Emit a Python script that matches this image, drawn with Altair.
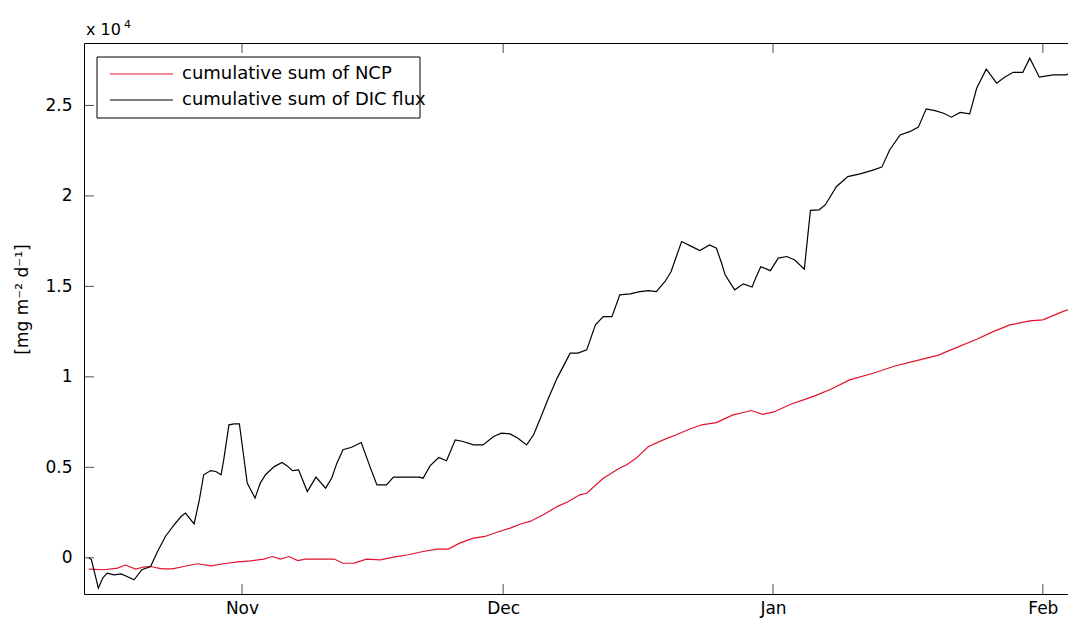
import altair as alt
import pandas as pd

# days after 1 Nov 2010 (fractional) and cumulative values [mg m-2 d-1]
dic_days = [-17.6, -17.3, -16.5, -16.0, -15.5, -14.7, -13.9, -13.2, -12.4, -11.5,
            -10.5, -9.7, -8.8, -7.8, -7.0, -6.5, -5.5, -4.9, -4.4, -3.6,
            -3.0, -2.4, -2.1, -1.5, -0.9, -0.3, 0.2, 0.6, 1.5, 2.1,
            2.7, 3.7, 4.6, 5.2, 5.8, 6.5, 7.5, 8.5, 9.6, 10.3,
            10.9, 11.6, 12.6, 13.7, 14.7, 15.5, 16.6, 17.4, 18.9, 20.4,
            20.8, 21.6, 22.6, 23.5, 24.5, 25.4, 26.6, 27.7, 28.9, 29.8,
            30.8, 31.7, 32.7, 33.5, 34.2, 35.2, 36.2, 37.3, 37.7, 38.6,
            39.6, 40.6, 41.5, 42.5, 43.4, 44.6, 45.7, 46.7, 47.6, 48.6,
            49.3, 49.9, 50.5, 51.5, 52.6, 53.7, 54.5, 55.1, 55.5, 56.1,
            56.6, 57.6, 58.6, 59.0, 59.6, 60.7, 61.6, 62.6, 63.5, 64.6,
            65.3, 66.3, 67.0, 68.3, 69.6, 71.0, 72.3, 73.5, 74.4, 75.6,
            76.7, 77.7, 78.6, 79.6, 80.6, 81.5, 82.5, 83.6, 84.4, 85.5,
            86.7, 87.6, 88.6, 89.7, 90.5, 91.6, 93.2, 94.7, 95.8, 96.3]
dic_vals = [0, -100, -1680, -1120, -850, -940, -890, -1030, -1215, -660,
            -480, 350, 1180, 1820, 2280, 2470, 1880, 3200, 4590, 4820,
            4770, 4590, 5410, 7350, 7400, 7400, 5600, 4130, 3300, 4130,
            4590, 5040, 5270, 5080, 4820, 4860, 3660, 4460, 3850, 4400,
            5230, 5970, 6110, 6370, 5040, 4030, 4030, 4460, 4460, 4460,
            4400, 5080, 5540, 5360, 6520, 6430, 6240, 6240, 6700, 6890,
            6850, 6610, 6240, 6800, 7620, 8820, 9930, 10940, 11310, 11310,
            11490, 12870, 13330, 13330, 14530, 14590, 14710, 14770, 14710, 15270,
            15820, 16650, 17480, 17240, 16980, 17290, 17110, 16280, 15640, 15180,
            14810, 15140, 14960, 15450, 16090, 15870, 16560, 16650, 16460, 15950,
            19200, 19230, 19500, 20520, 21070, 21220, 21400, 21590, 22540, 23370,
            23550, 23800, 24810, 24710, 24570, 24350, 24610, 24530, 25950, 27000,
            26230, 26560, 26830, 26830, 27610, 26560, 26690, 26690, 26960, 27100]

ncp_days = [-17.6, -15.9, -14.3, -13.4, -12.2, -11.3, -10.5, -9.2, -8.0, -6.7,
            -5.1, -3.6, -2.1, -0.5, 1.0, 2.5, 3.5, 4.4, 5.4, 6.4,
            7.3, 8.6, 10.6, 11.6, 12.9, 14.3, 15.9, 17.4, 19.1, 20.8,
            22.4, 23.7, 25.0, 26.6, 27.9, 29.2, 30.8, 32.1, 33.1, 34.6,
            36.2, 37.5, 38.8, 39.6, 41.5, 42.2, 43.4, 44.2, 45.3, 46.7,
            48.6, 49.9, 51.3, 52.8, 54.5, 56.4, 57.6, 58.5, 59.8, 61.1,
            63.1, 64.5, 65.8, 67.7, 69.8, 72.5, 75.0, 77.5, 80.0, 82.0,
            84.4, 86.3, 88.2, 90.5, 92.0, 94.0, 95.8, 96.3]
ncp_vals = [-630, -660, -570, -400, -620, -510, -480, -610, -610, -480,
            -330, -440, -330, -220, -170, -70, 70, -70, 70, -150,
            -70, -70, -70, -300, -290, -70, -110, 40, 170, 350,
            480, 480, 810, 1090, 1180, 1400, 1640, 1880, 2010, 2380,
            2830, 3110, 3480, 3570, 4400, 4600, 4960, 5140, 5510, 6150,
            6560, 6800, 7090, 7350, 7470, 7900, 8030, 8140, 7930, 8060,
            8500, 8730, 8950, 9330, 9830, 10200, 10600, 10900, 11200, 11600,
            12080, 12500, 12870, 13090, 13150, 13550, 13890, 13950]

series_names = ["cumulative sum of NCP", "cumulative sum of DIC flux"]
series_colors = ["#e3122e", "#000000"]

y_tick_values = [0, 5000, 10000, 15000, 20000, 25000]
x_tick_dates = ["2010-11-01", "2010-12-01", "2011-01-01", "2011-02-01"]
x_domain_dates = ["2010-10-13T20:24", "2011-02-04T19:26"]
y_domain = [-2000, 28450]

base = pd.Timestamp("2010-11-01")


def iso(days):
    return [(base + pd.Timedelta(days=d)).strftime("%Y-%m-%dT%H:%M:%SZ") for d in days]


def ms(s):
    return int(pd.Timestamp(s).tz_localize("UTC").value // 10**6)


df = pd.concat([
    pd.DataFrame({"date": iso(ncp_days), "value": ncp_vals, "series": series_names[0]}),
    pd.DataFrame({"date": iso(dic_days), "value": dic_vals, "series": series_names[1]}),
])

W, H = 992, 551
FONT = "DejaVu Sans"

xscale = alt.Scale(type="utc", domain=[ms(d) for d in x_domain_dates])
yscale = alt.Scale(domain=y_domain, nice=False, zero=False)
x_ticks_ms = [ms(d) for d in x_tick_dates]

x_axis = alt.Axis(values=x_ticks_ms, labelExpr="utcFormat(datum.value, '%b')",
                  ticks=False, domain=False, grid=False, labelPadding=6,
                  labelBaseline="top", title=None)
y_axis = alt.Axis(values=y_tick_values, labelExpr="format(datum.value / 10000, '~g')",
                  ticks=False, domain=False, grid=False, labelPadding=12,
                  title="[mg m⁻² d⁻¹]", titleAngle=270, titleX=-62, titleY=256,
                  titleAlign="center", titleBaseline="middle", titleFontWeight="normal")

lines = alt.Chart(df).mark_line(strokeWidth=1.2, clip=True).encode(
    x=alt.X("date:T", scale=xscale, axis=x_axis),
    y=alt.Y("value:Q", scale=yscale, axis=y_axis),
    color=alt.Color("series:N",
                    scale=alt.Scale(domain=series_names, range=series_colors),
                    legend=None),
)

ytick_df = pd.DataFrame({"value": y_tick_values})
xtick_df = pd.DataFrame({"date": x_ticks_ms})


def ytick(xpos):
    return alt.Chart(ytick_df).mark_tick(orient="horizontal", size=10, thickness=1,
                                         color="black").encode(
        y=alt.Y("value:Q", scale=yscale, axis=y_axis), x=alt.value(xpos))


def xtick(ypos):
    return alt.Chart(xtick_df).mark_tick(orient="vertical", size=10, thickness=1,
                                         color="black").encode(
        x=alt.X("date:T", scale=xscale, axis=x_axis), y=alt.value(ypos))


# legend drawn by hand (box, line samples, labels)
one = pd.DataFrame({"k": [0]})
leg_box = alt.Chart(one).mark_rect(fill="white", stroke="black", strokeWidth=1).encode(
    x=alt.value(13), x2=alt.value(336), y=alt.value(14), y2=alt.value(75))
leg_lines = [
    alt.Chart(pd.DataFrame({"series": [series_names[i]]})).mark_rule(
        color=series_colors[i], strokeWidth=1.2).encode(
        x=alt.value(26), x2=alt.value(89), y=alt.value(31 + 26 * i))
    for i in range(2)
]
leg_texts = [
    alt.Chart(pd.DataFrame({"series": [series_names[i]]})).mark_text(
        align="left", baseline="middle", font=FONT, fontSize=18, color="black").encode(
        x=alt.value(98), y=alt.value(31 + 26 * i), text="series:N")
    for i in range(2)
]

exp_text = alt.Chart(pd.DataFrame({"t": ["x 10"]})).mark_text(
    align="left", baseline="alphabetic", font=FONT, fontSize=16, color="black").encode(
    x=alt.value(2), y=alt.value(-8), text="t:N")
sup_text = alt.Chart(pd.DataFrame({"t": ["4"]})).mark_text(
    align="left", baseline="alphabetic", font=FONT, fontSize=11, color="black").encode(
    x=alt.value(40), y=alt.value(-15), text="t:N")

chart = alt.layer(
    lines, ytick(5), xtick(5), xtick(H - 5),
    leg_box, *leg_lines, *leg_texts, exp_text, sup_text
).properties(
    width=W, height=H,
    padding={"left": 76, "top": 35, "right": -8, "bottom": 25},
    autosize="none",
).configure_view(
    stroke="black", strokeWidth=1
).configure_axis(
    labelFont=FONT, labelFontSize=17, labelColor="black",
    titleFont=FONT, titleFontSize=17, titleColor="black"
)

chart.save("out.html", embed_options={"renderer": "svg", "actions": False})
